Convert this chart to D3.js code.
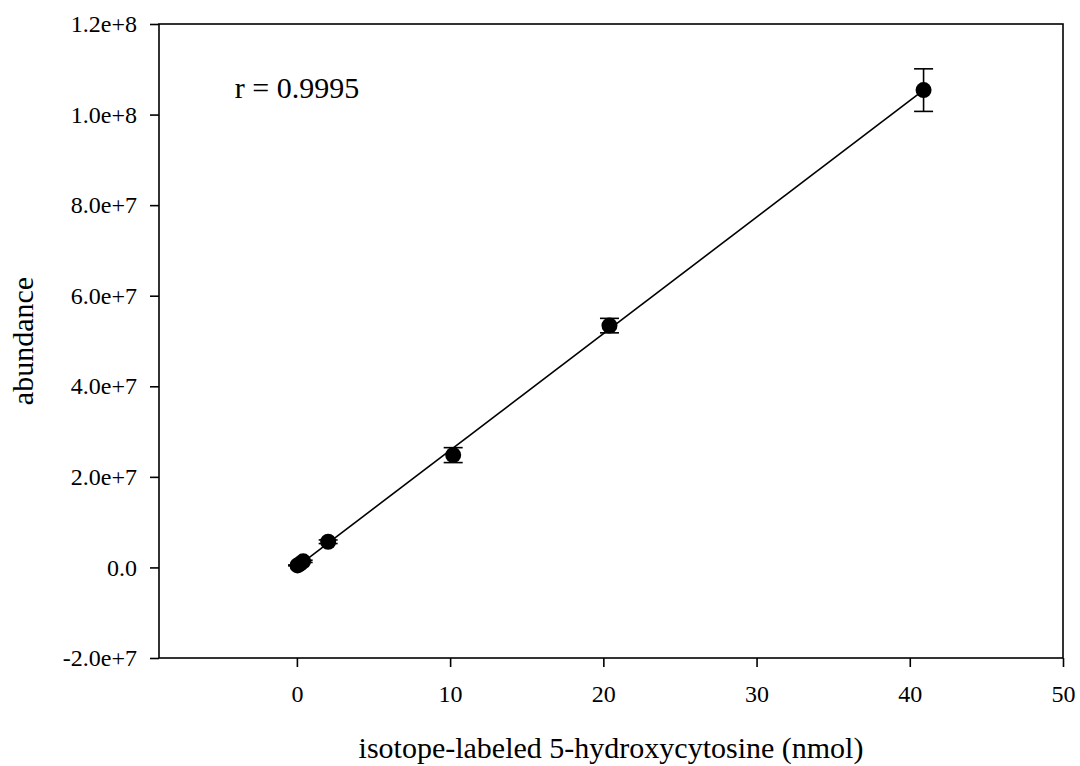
<!DOCTYPE html>
<html>
<head>
<meta charset="utf-8">
<script src="https://cdn.jsdelivr.net/npm/d3@7"></script>
<style>
  body { margin: 0; background: #fff; }
  text { font-family: "Liberation Serif", "Times New Roman", serif; fill: #000; }
</style>
</head>
<body>
<svg width="1080" height="766"></svg>
<script>
// nmol of labeled standard vs measured abundance
var amounts = [0.041, 0.204, 0.409, 2.04, 10.2, 20.4, 40.9];
var abundance = [4.5e5, 8.0e5, 1.35e6, 5.67e6, 2.48e7, 5.34e7, 1.054e8];
var errors = [1.0e5, 1.5e5, 2.5e5, 4.0e5, 1.65e6, 1.6e6, 4.7e6];
var xTicks = [0, 10, 20, 30, 40, 50];
var yTicks = [-2e7, 0, 2e7, 4e7, 6e7, 8e7, 1e8, 1.2e8];
var rLabel = "r = 0.9995";

var svg = d3.select("svg"),
    margin = {top: 24, right: 17, bottom: 108, left: 159},
    width = svg.attr("width") - margin.left - margin.right,
    height = svg.attr("height") - margin.top - margin.bottom,
    g = svg.append("g").attr("transform", "translate(" + margin.left + "," + margin.top + ")");

var x = d3.scaleLinear().domain([-9, 50]).range([0, width]),
    y = d3.scaleLinear().domain([-2e7, 1.2e8]).range([height, 0]);

var fmt = function(d) {
    if (d === 0) return "0.0";
    return d.toExponential(1);
};

// least squares fit through the points
var mx = d3.mean(amounts), my = d3.mean(abundance);
var sxy = 0, sxx = 0;
for (var i = 0; i < amounts.length; i++) {
    sxy += (amounts[i] - mx) * (abundance[i] - my);
    sxx += (amounts[i] - mx) * (amounts[i] - mx);
}
var slope = sxy / sxx, intercept = my - slope * mx;
var fitPts = [d3.min(amounts), d3.max(amounts)];

// frame
g.append("rect")
    .attr("width", width)
    .attr("height", height)
    .attr("fill", "none")
    .attr("stroke", "#000")
    .attr("stroke-width", 1.6);

var xAxis = g.append("g")
    .attr("transform", "translate(0," + height + ")")
    .call(d3.axisBottom(x).tickValues(xTicks).tickSize(9).tickPadding(18).tickFormat(d3.format("d")));
var yAxis = g.append("g")
    .call(d3.axisLeft(y).tickValues(yTicks).tickSize(9).tickPadding(13).tickFormat(fmt));

[xAxis, yAxis].forEach(function(a) {
    a.select(".domain").remove();
    a.selectAll("line").attr("stroke", "#000").attr("stroke-width", 1.6);
    a.selectAll("text")
        .style("font-family", '"Liberation Serif", "Times New Roman", serif')
        .style("font-size", "24px")
        .attr("fill", "#000");
});

g.append("line")
    .attr("x1", x(fitPts[0]))
    .attr("y1", y(intercept + slope * fitPts[0]))
    .attr("x2", x(fitPts[1]))
    .attr("y2", y(intercept + slope * fitPts[1]))
    .attr("stroke", "#000")
    .attr("stroke-width", 1.6);

var pts = g.selectAll(".pt")
    .data(amounts.map(function(a, i) { return {x: a, y: abundance[i], e: errors[i]}; }))
    .enter().append("g")
      .attr("class", "pt");

pts.append("line")
    .attr("x1", function(d) { return x(d.x); })
    .attr("x2", function(d) { return x(d.x); })
    .attr("y1", function(d) { return y(d.y - d.e); })
    .attr("y2", function(d) { return y(d.y + d.e); })
    .attr("stroke", "#000").attr("stroke-width", 1.6);

[-1, 1].forEach(function(s) {
    pts.append("line")
        .attr("x1", function(d) { return x(d.x) - 9.5; })
        .attr("x2", function(d) { return x(d.x) + 9.5; })
        .attr("y1", function(d) { return y(d.y + s * d.e); })
        .attr("y2", function(d) { return y(d.y + s * d.e); })
        .attr("stroke", "#000").attr("stroke-width", 1.6);
});

pts.append("circle")
    .attr("cx", function(d) { return x(d.x); })
    .attr("cy", function(d) { return y(d.y); })
    .attr("r", 8)
    .attr("fill", "#000");

g.append("text")
    .attr("x", x(-4.05))
    .attr("y", 74)
    .style("font-size", "30px")
    .text(rLabel);

svg.append("text")
    .attr("x", margin.left + width / 2)
    .attr("y", 758)
    .attr("text-anchor", "middle")
    .style("font-size", "30px")
    .text("isotope-labeled 5-hydroxycytosine (nmol)");

svg.append("text")
    .attr("transform", "translate(33," + (margin.top + height / 2) + ") rotate(-90)")
    .attr("text-anchor", "middle")
    .style("font-size", "30px")
    .text("abundance");
</script>
</body>
</html>
